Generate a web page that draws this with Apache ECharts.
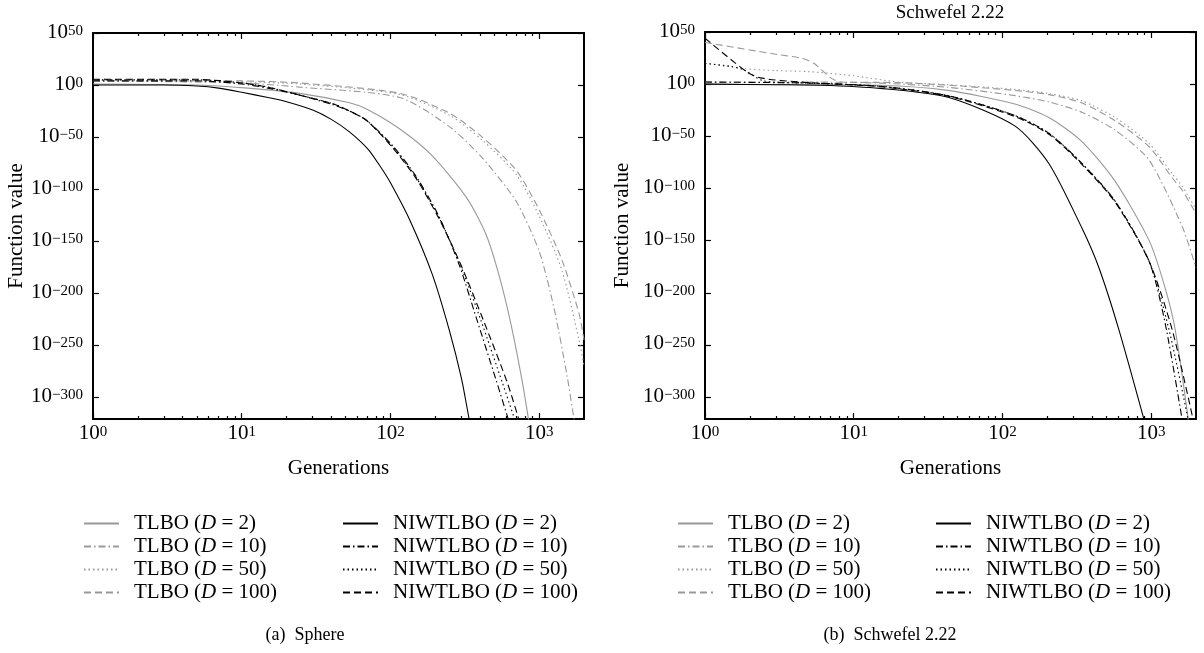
<!DOCTYPE html>
<html>
<head>
<meta charset="utf-8">
<script src="https://cdn.jsdelivr.net/npm/echarts@6/dist/echarts.min.js"></script>
<style>
html,body{margin:0;padding:0;background:#fff;}
#chart{width:1204px;height:653px;}
</style>
</head>
<body>
<div id="chart"></div>
<script>
// ---------- data (generation, log10 of function value) ----------
const seriesNames = ['TLBO (D = 2)', 'TLBO (D = 10)', 'TLBO (D = 50)', 'TLBO (D = 100)',
  'NIWTLBO (D = 2)', 'NIWTLBO (D = 10)', 'NIWTLBO (D = 50)', 'NIWTLBO (D = 100)'];
const yTickExponents = [50, 0, -50, -100, -150, -200, -250, -300];
const xTickGenerations = [1, 10, 100, 1000];
const xMinorGenerations = [2, 3, 4, 5, 6, 7, 8, 9, 20, 30, 40, 50, 60, 70, 80, 90, 200, 300, 400, 500, 600, 700, 800, 900];
const panelTitle = 'Schwefel 2.22';
const captions = ['(a)  Sphere', '(b)  Schwefel 2.22'];

// (a) Sphere
const sphereTLBO2 = [[1, 1], [5, 0], [11, -3], [24.5, -8], [53, -17], [69, -23], [115, -42], [191, -68], [324, -108], [437, -143], [537, -183], [646, -230], [769, -285], [851, -323]];
const sphereTLBO10 = [[1, 4], [10, 2], [24.5, -2], [115, -12], [249, -40], [414, -70], [701, -112], [1000, -160], [1260, -215], [1541, -280], [1720, -323]];
const sphereTLBO50 = [[1, 4.5], [10, 3], [24.5, 1], [115, -9], [249, -29], [414, -53], [701, -86], [1000, -126], [1420, -178], [1850, -245], [2000, -270]];
const sphereTLBO100 = [[1, 5], [10, 4], [24.5, 2], [115, -8], [249, -27], [414, -50], [701, -82], [1000, -120], [1420, -168], [1855, -220], [2000, -245]];
const sphereNIW2 = [[1, 0], [3, 0], [5, -1], [7, -3], [10, -7], [15, -12], [20, -16], [30, -24], [40, -33], [53, -45], [71, -62], [87, -80], [100, -94], [135, -130], [191, -182], [249, -236], [300, -282], [338, -321], [345, -326]];
const sphereNIW10 = [[1, 4], [5, 4], [10, 1], [15, -3], [25, -10], [41, -19], [53, -25], [69, -34], [103, -58], [149, -88], [213, -127], [290, -173], [378, -224], [514, -284], [625, -323]];
const sphereNIW50 = [[1, 5], [5, 5], [10, 2], [15, -2], [25, -10], [41, -18], [53, -25], [69, -34], [103, -59], [149, -89], [213, -128], [295, -173], [405, -226], [565, -286], [690, -323]];
const sphereNIW100 = [[1, 5.5], [5, 5.5], [10, 2], [15, -2], [25, -10], [41, -18], [53, -25], [69, -34], [103, -60], [149, -90], [213, -129], [300, -174], [421, -226], [610, -286], [735, -323]];

// (b) Schwefel 2.22
const schTLBO2 = [[1, 0], [5, -0.5], [15, -1], [43, -6], [121, -19], [205, -32], [342, -55], [571, -93], [969, -150], [1244, -196], [1452, -236], [1780, -323]];
const schTLBO10 = [[1, 2], [5, 2], [15, 1], [43, -3], [121, -11], [205, -17], [342, -27], [571, -44], [969, -73], [1620, -137], [2000, -176]];
const schTLBO50 = [[1, 20], [1.8, 15], [3, 13], [5, 12], [10, 8], [20, 2], [43, -0.5], [121, -5], [205, -9], [342, -16], [571, -32], [969, -57], [1386, -86], [1620, -98], [2000, -120]];
const schTLBO100 = [[1, 40], [3.2, 28], [4.4, 25], [5.4, 20], [7, 6], [8.2, 2], [20, 1.5], [43, -1], [121, -6], [205, -10], [342, -18], [571, -35], [969, -60], [1386, -90], [1620, -102], [2000, -124]];
const schNIW2 = [[1, 0], [3, -0.5], [6, -1], [15, -4], [43, -12.5], [121, -40], [205, -76], [342, -138], [445, -176], [608, -236], [900, -323]];
const schNIW10 = [[1, 2], [5, 1], [15, -2], [43, -11], [121, -30], [205, -47], [342, -76], [571, -112], [969, -170], [1244, -230], [1620, -323]];
const schNIW50 = [[1, 20], [1.5, 17], [1.8, 14], [2.5, 3], [5, 1], [15, -2], [43, -11], [121, -30], [205, -47], [342, -76], [571, -112], [969, -170], [1320, -236], [1780, -323]];
const schNIW100 = [[1, 44], [1.9, 12], [2.35, 6], [4.4, 2], [15, -2.5], [43, -11.5], [121, -31], [205, -48], [342, -77], [571, -113], [969, -170], [1387, -236], [1922, -323]];

const panelData = [
  [sphereTLBO2, sphereTLBO10, sphereTLBO50, sphereTLBO100, sphereNIW2, sphereNIW10, sphereNIW50, sphereNIW100],
  [schTLBO2, schTLBO10, schTLBO50, schTLBO100, schNIW2, schNIW10, schNIW50, schNIW100]
];

// ---------- styling ----------
const FONT = 'Liberation Serif';
const GRAY = '#999999';
const BLACK = '#000000';
const DASHDOT = [7, 3, 1.5, 3];
const DOT = [1.5, 3];
const DASH = [7, 4];
const lineStyles = [
  { color: GRAY, type: 'solid' }, { color: GRAY, type: DASHDOT }, { color: GRAY, type: DOT }, { color: GRAY, type: DASH },
  { color: BLACK, type: 'solid' }, { color: BLACK, type: DASHDOT }, { color: BLACK, type: DOT }, { color: BLACK, type: DASH }
];

const Y_MIN = -321, Y_MAX = 50;
const grids = [
  { left: 93, top: 33, width: 491, height: 386 },
  { left: 705, top: 32, width: 491, height: 387 }
];

const supRich = {
  b: { fontFamily: FONT, fontSize: 21, color: '#000', lineHeight: 19, verticalAlign: 'bottom' },
  s: { fontFamily: FONT, fontSize: 15, color: '#000', lineHeight: 15, verticalAlign: 'top', padding: [0, 0, 13, 0] }
};
function supText(e) {
  const ex = e < 0 ? '\u2212' + (-e) : String(e);
  return '{b|10}{s|' + ex + '}';
}
const nameStyle = { fontFamily: FONT, fontSize: 21, color: '#000' };
const axisLineStyle = { show: true, onZero: false, lineStyle: { color: '#000', width: 2 } };
const tickStyle = { color: '#000', width: 1.2 };

const xAxes = [], yAxes = [];
grids.forEach((g, gi) => {
  const base = { gridIndex: gi, type: 'log', logBase: 10, min: 1, max: 2000, splitLine: { show: false } };
  xAxes.push(Object.assign({}, base, {
    position: 'bottom', axisLine: axisLineStyle,
    axisTick: { show: true, inside: true, length: 6, customValues: xTickGenerations, lineStyle: tickStyle },
    axisLabel: {
      show: true, customValues: xTickGenerations, margin: 6, rich: supRich,
      formatter: v => { const e = Math.log10(v); return Math.abs(e - Math.round(e)) < 1e-6 ? supText(Math.round(e)) : ''; }
    },
    name: 'Generations', nameLocation: 'middle', nameGap: 36, nameTextStyle: nameStyle
  }));
  xAxes.push(Object.assign({}, base, {
    position: 'bottom', axisLine: { show: false, onZero: false },
    axisTick: { show: true, inside: true, length: 3, customValues: xMinorGenerations, lineStyle: tickStyle },
    axisLabel: { show: false }
  }));
  xAxes.push(Object.assign({}, base, {
    position: 'top', axisLine: axisLineStyle,
    axisTick: { show: true, inside: true, length: 6, customValues: xTickGenerations, lineStyle: tickStyle },
    axisLabel: { show: false }
  }));
  xAxes.push(Object.assign({}, base, {
    position: 'top', axisLine: { show: false, onZero: false },
    axisTick: { show: true, inside: true, length: 3, customValues: xMinorGenerations, lineStyle: tickStyle },
    axisLabel: { show: false }
  }));
  const ybase = { gridIndex: gi, type: 'value', min: Y_MIN, max: Y_MAX, splitLine: { show: false } };
  yAxes.push(Object.assign({}, ybase, {
    position: 'left', axisLine: axisLineStyle,
    axisTick: { show: true, inside: true, length: 6, customValues: yTickExponents, lineStyle: tickStyle },
    axisLabel: { show: true, customValues: yTickExponents, margin: 10, rich: supRich, formatter: v => supText(v) },
    name: 'Function value', nameLocation: 'middle', nameGap: gi === 0 ? 66 : 72, nameTextStyle: nameStyle
  }));
  yAxes.push(Object.assign({}, ybase, {
    position: 'right', axisLine: axisLineStyle,
    axisTick: { show: true, inside: true, length: 6, customValues: yTickExponents, lineStyle: tickStyle },
    axisLabel: { show: false }
  }));
});

const series = [];
panelData.forEach((arrs, gi) => {
  arrs.forEach((data, si) => {
    series.push({
      name: seriesNames[si], type: 'line', xAxisIndex: gi * 4, yAxisIndex: gi * 2,
      data: data, showSymbol: false, symbol: 'none', clip: true,
      smooth: 0.25,
      lineStyle: { color: lineStyles[si].color, type: lineStyles[si].type, width: 1.1 },
      itemStyle: { color: lineStyles[si].color },
      z: si < 4 ? 2 : 3
    });
  });
});

const legendText = {
  fontFamily: FONT, fontSize: 21, color: '#000', lineHeight: 21, padding: [0, 0, 0, 10],
  rich: { i: { fontFamily: FONT, fontSize: 21, fontStyle: 'italic', color: '#000' } }
};
function makeLegend(left, names) {
  return {
    left: left, top: 513, orient: 'vertical', padding: 0, itemGap: 2, itemWidth: 35, itemHeight: 14,
    selectedMode: false, data: names, textStyle: legendText,
    itemStyle: { opacity: 0 },
    formatter: n => n.replace('D =', '{i|D} =')
  };
}
const legends = [
  makeLegend(83, seriesNames.slice(0, 4)),
  makeLegend(342, seriesNames.slice(4)),
  makeLegend(677, seriesNames.slice(0, 4)),
  makeLegend(935, seriesNames.slice(4))
];

const option = {
  animation: false,
  backgroundColor: '#fff',
  textStyle: { fontFamily: FONT },
  grid: grids,
  xAxis: xAxes,
  yAxis: yAxes,
  legend: legends,
  series: series,
  graphic: [
    { type: 'text', x: 950, y: 13, style: { text: panelTitle, font: '19px "Liberation Serif"', fill: '#000', textAlign: 'center', textVerticalAlign: 'middle' } },
    { type: 'text', x: 305, y: 635, style: { text: captions[0], font: '18px "Liberation Serif"', fill: '#000', textAlign: 'center', textVerticalAlign: 'middle' } },
    { type: 'text', x: 890, y: 635, style: { text: captions[1], font: '18px "Liberation Serif"', fill: '#000', textAlign: 'center', textVerticalAlign: 'middle' } }
  ]
};

const chart = echarts.init(document.getElementById('chart'), null, { renderer: 'canvas' });
chart.setOption(option);
</script>
</body>
</html>
